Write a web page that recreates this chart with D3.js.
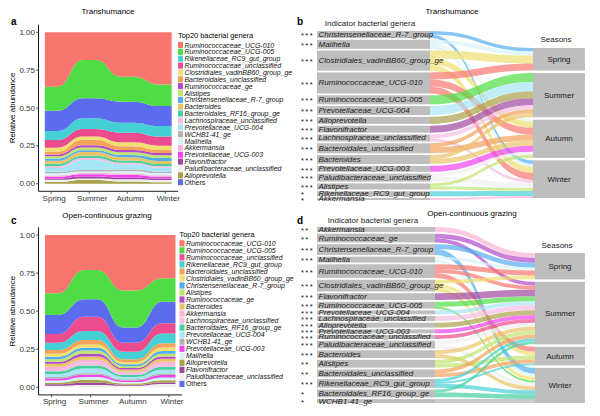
<!DOCTYPE html>
<html><head><meta charset="utf-8">
<script src="https://cdn.jsdelivr.net/npm/d3@7"></script>
<style>body{margin:0;background:#fff}svg text{font-family:"Liberation Sans",Arial,Helvetica,sans-serif}</style>
</head><body>
<svg id="chart" width="600" height="416"></svg>
<script>
// ---------------- DATA ----------------
const seasons = ["Spring", "Summer", "Autumn", "Winter"];
const yTicks = [0, 0.25, 0.5, 0.75, 1];

// Panel a (Transhumance) – stacking order top -> bottom
const transGenera = ["Ruminococcaceae_UCG-010","Ruminococcaceae_UCG-005","Others","Rikenellaceae_RC9_gut_group","Ruminococcaceae_unclassified","Clostridiales_vadinBB60_group_ge","Bacteroidales_unclassified","Ruminococcaceae_ge","Alistipes","Christensenellaceae_R-7_group","Bacteroides","Bacteroidales_RF16_group_ge","Lachnospiraceae_unclassified","Prevotellaceae_UCG-004","WCHB1-41_ge","Mailhella","Akkermansia","Prevotellaceae_UCG-003","Flavonifractor","Paludibacteraceae_unclassified","Alloprevotella"];
const transAbund = [
  [0.359,0.183,0.293,0.344],[0.159,0.253,0.165,0.143],[0.134,0.132,0.139,0.132],[0.059,0.071,0.066,0.070],
  [0.051,0.050,0.064,0.060],[0.025,0.020,0.025,0.028],[0.020,0.037,0.025,0.020],[0.012,0.015,0.015,0.015],
  [0.015,0.018,0.018,0.018],[0.015,0.012,0.015,0.020],[0.020,0.025,0.022,0.020],[0.015,0.015,0.015,0.015],
  [0.012,0.012,0.010,0.010],[0.025,0.067,0.035,0.025],[0.010,0.010,0.010,0.010],[0.015,0.010,0.015,0.015],
  [0.010,0.008,0.010,0.010],[0.010,0.015,0.018,0.010],[0.008,0.012,0.010,0.010],[0.015,0.010,0.015,0.015],
  [0.011,0.025,0.015,0.010]
];

// Panel c (Open-continuous grazing) – stacking order top -> bottom
const openGenera = ["Ruminococcaceae_UCG-010","Ruminococcaceae_UCG-005","Others","Ruminococcaceae_unclassified","Rikenellaceae_RC9_gut_group","Bacteroidales_unclassified","Clostridiales_vadinBB60_group_ge","Christensenellaceae_R-7_group","Alistipes","Ruminococcaceae_ge","Bacteroides","Akkermansia","Lachnospiraceae_unclassified","Bacteroidales_RF16_group_ge","Prevotellaceae_UCG-004","WCHB1-41_ge","Prevotellaceae_UCG-003","Mailhella","Alloprevotella","Flavonifractor","Paludibacteraceae_unclassified"];
const openAbund = [
  [0.383,0.230,0.365,0.284],[0.142,0.192,0.243,0.154],[0.125,0.114,0.099,0.142],[0.057,0.094,0.059,0.066],
  [0.048,0.059,0.050,0.065],[0.025,0.030,0.018,0.028],[0.020,0.022,0.015,0.022],[0.015,0.018,0.012,0.018],
  [0.018,0.020,0.012,0.018],[0.012,0.018,0.010,0.015],[0.020,0.022,0.015,0.020],[0.015,0.018,0.010,0.015],
  [0.015,0.020,0.012,0.018],[0.018,0.020,0.012,0.020],[0.020,0.030,0.015,0.025],[0.010,0.010,0.008,0.010],
  [0.012,0.015,0.010,0.015],[0.015,0.020,0.010,0.018],[0.010,0.018,0.008,0.015],[0.010,0.015,0.007,0.010],
  [0.010,0.015,0.010,0.022]
];

// Panel b – indicator genera (Transhumance), flows to Spring/Summer/Autumn/Winter
const transIndicator = ["Christensenellaceae_R-7_group","Mailhella","Clostridiales_vadinBB60_group_ge","Ruminococcaceae_UCG-010","Ruminococcaceae_UCG-005","Prevotellaceae_UCG-004","Alloprevotella","Flavonifractor","Lachnospiraceae_unclassified","Bacteroidales_unclassified","Bacteroides","Prevotellaceae_UCG-003","Paludibacteraceae_unclassified","Alistipes","Rikenellaceae_RC9_gut_group","Akkermansia"];
const transStars = ["***","***","***","***","***","***","***","***","***","***","***","***","***","***","*","*"];
const transFlows = [
  [3.5,0,0,3.5],[4,0,2,3],[8,0,6,6],[7,0,7,7],[0,9,0,0],[0,9,0,0],[0,7,0,0],[0,7,0,0],
  [0,4,0,3],[0,4,6,0],[0,4,5,0],[0,0,6,0],[0,0,3,5],[0,0,3,3],[0,0,0,5],[0,0,0,2]
];

// Panel d – indicator genera (Open-continuous grazing)
const openIndicator = ["Akkermansia","Ruminococcaceae_ge","Christensenellaceae_R-7_group","Mailhella","Ruminococcaceae_UCG-010","Clostridiales_vadinBB60_group_ge","Flavonifractor","Ruminococcaceae_UCG-005","Prevotellaceae_UCG-004","Lachnospiraceae_unclassified","Alloprevotella","Prevotellaceae_UCG-003","Ruminococcaceae_unclassified","Paludibacteraceae_unclassified","Bacteroides","Alistipes","Bacteroidales_unclassified","Rikenellaceae_RC9_gut_group","Bacteroidales_RF16_group_ge","WCHB1-41_ge"];
const openStars = ["**","**","***","***","***","***","***","***","***","***","***","***","***","***","***","**","**","***","*","*"];
const openFlows = [
  [5,0,0,0],[5,4,0,0],[5,0,0,6],[3,0,0,3],[5,4,5,0],[4,0,4,4],[0,7,0,0],[0,5,0,2],[0,4,0,0],[0,5,0,0],
  [0,5,0,0],[0,4,0,0],[0,4,0,0],[0,4,0,4],[0,4,0,4],[0,4,4,0],[0,4,4,0],[0,3,2,4],[0,3,0,5],[0,0,0,4]
];

// colours per genus
const genusColors = {
  "Ruminococcaceae_UCG-010":"#F8766D","Ruminococcaceae_UCG-005":"#4FDD45","Rikenellaceae_RC9_gut_group":"#45D0D5",
  "Ruminococcaceae_unclassified":"#EC4C8E","Clostridiales_vadinBB60_group_ge":"#EFE06F","Bacteroidales_unclassified":"#F3A35C",
  "Ruminococcaceae_ge":"#B24ACB","Alistipes":"#BEE56D","Christensenellaceae_R-7_group":"#52ADEF","Bacteroides":"#E9C466",
  "Bacteroidales_RF16_group_ge":"#47CFA0","Lachnospiraceae_unclassified":"#F6BDE3","Prevotellaceae_UCG-004":"#A6E6F6",
  "WCHB1-41_ge":"#B3B3B3","Mailhella":"#D6F3F8","Akkermansia":"#F9B4D6","Prevotellaceae_UCG-003":"#F043EE",
  "Flavonifractor":"#A0479F","Paludibacteraceae_unclassified":"#EFEFEF","Alloprevotella":"#A9A14B","Others":"#5B6CEF"
};

// ---------------- DRAW ----------------
const svg = d3.select("#chart");

function txt(g, x, y, s, size, opts = {}) {
  const t = g.append("text").attr("x", x).attr("y", y).text(s).attr("font-size", size)
    .attr("fill", opts.fill || "#000");
  if (opts.anchor) t.attr("text-anchor", opts.anchor);
  if (opts.italic) t.attr("font-style", "italic");
  if (opts.bold) t.attr("font-weight", "bold");
  if (opts.mid) t.attr("dominant-baseline", "central");
  return t;
}

function stackPanel(o) {
  const g = svg.append("g");
  const x = d3.scaleLinear().domain([0.667, 4.333]).range([o.left, o.right]);
  const y = d3.scaleLinear().domain([0, 1]).range([o.y0, o.y1]);
  const rows = seasons.map((s, j) => {
    const r = { season: s, idx: j + 1 };
    o.genera.forEach((gn, i) => r[gn] = o.abund[i][j]);
    return r;
  });
  const keys = o.genera.slice().reverse(); // bottom first
  const layers = d3.stack().keys(keys)(rows);
  const hw = 1 / 6;
  const area = d3.area().x(p => x(p.x)).y0(p => y(p.a)).y1(p => y(p.b)).curve(d3.curveBumpX);
  layers.forEach(L => {
    const pts = [];
    L.forEach((d, j) => {
      pts.push({ x: d.data.idx - hw, a: d[0], b: d[1] });
      pts.push({ x: d.data.idx + hw, a: d[0], b: d[1] });
    });
    g.append("path").attr("d", area(pts)).attr("fill", genusColors[L.key]);
  });
  // axes
  const yTop = y(1) - 0.05 * (y(0) - y(1)), yBot = y(0) + 0.05 * (y(0) - y(1));
  g.append("line").attr("x1", o.left).attr("x2", o.left).attr("y1", yTop).attr("y2", yBot).attr("stroke", "#000").attr("stroke-width", 0.9);
  g.append("line").attr("x1", o.left).attr("x2", o.right).attr("y1", yBot).attr("y2", yBot).attr("stroke", "#000").attr("stroke-width", 0.9);
  yTicks.forEach(t => {
    g.append("line").attr("x1", o.left - 2.5).attr("x2", o.left).attr("y1", y(t)).attr("y2", y(t)).attr("stroke", "#333").attr("stroke-width", 0.8);
    txt(g, o.left - 3.5, y(t), d3.format(".2f")(t), 8, { anchor: "end", mid: true, fill: "#333" });
  });
  seasons.forEach((s, j) => {
    g.append("line").attr("x1", x(j + 1)).attr("x2", x(j + 1)).attr("y1", yBot).attr("y2", yBot + 2.5).attr("stroke", "#333").attr("stroke-width", 0.8);
    txt(g, x(j + 1) + 3, yBot + 9.5, s, 8, { anchor: "middle", fill: "#333" });
  });
  txt(g, 0, 0, "Relative abundance", 8, { anchor: "middle" })
    .attr("transform", `translate(${o.ytitleX},${(yTop + yBot) / 2}) rotate(-90)`);
  txt(g, o.titleX, o.titleY, o.title, 8, { anchor: "middle" });
  txt(g, o.letterX, o.letterY, o.letter, 10, { bold: true });
  // legend
  const leg = o.genera.filter(d => d !== "Others").concat(["Others"]);
  txt(g, o.legX, o.legTitleY, "Top20 bacterial genera", 7.4);
  leg.forEach((gn, i) => {
    const cy = o.legY0 + i * o.legStep;
    g.append("rect").attr("x", o.legX).attr("y", cy - o.legStep / 2 + 0.4).attr("width", 5).attr("height", o.legStep - 0.8).attr("fill", genusColors[gn]);
    txt(g, o.legX + 6.5, cy, gn, 6.9, { italic: gn !== "Others", mid: true, fill: "#111" });
  });
}

function alluvialPanel(o) {
  const g = svg.append("g");
  const segTotals = seasons.map((s, j) => d3.sum(o.flows, f => f[j]));
  const total = d3.sum(segTotals);
  const rightPad = 2.5;
  const k = d3.scaleLinear().domain([0, total]).range([0, o.rBot - o.rTop - rightPad * 3]);
  const leftPad = (o.lBot - o.lTop - k(total)) / (o.genera.length - 1);
  let yy = o.lTop;
  const leftNodes = o.genera.map((gn, i) => {
    const h = k(d3.sum(o.flows[i]));
    const n = { gn, y0: yy, y1: yy + h };
    yy += h + leftPad; return n;
  });
  yy = o.rTop;
  const rightNodes = seasons.map((s, j) => {
    const h = k(segTotals[j]);
    const n = { s, y0: yy, y1: yy + h };
    yy += h + rightPad; return n;
  });
  const links = [];
  leftNodes.forEach((n, i) => {
    let c = n.y0;
    o.flows[i].forEach((v, j) => { if (v > 0) { links.push({ i, j, v, l0: c, l1: c + k(v) }); c += k(v); } });
  });
  rightNodes.forEach((rn, j) => {
    let c = rn.y0;
    links.filter(l => l.j === j).sort((a, b) => a.i - b.i).forEach(l => { l.r0 = c; l.r1 = c + k(l.v); c += k(l.v); });
  });
  // strata
  leftNodes.forEach(n => g.append("rect").attr("x", o.lx0).attr("y", n.y0).attr("width", o.lx1 - o.lx0)
    .attr("height", n.y1 - n.y0).attr("fill", "#BEBEBE"));
  rightNodes.forEach(n => g.append("rect").attr("x", o.rx0).attr("y", n.y0).attr("width", o.rx1 - o.rx0)
    .attr("height", n.y1 - n.y0).attr("fill", "#BEBEBE"));
  // flows
  const area = d3.area().x(p => p.x).y0(p => p.a).y1(p => p.b).curve(d3.curveBumpX);
  links.forEach(l => {
    g.append("path").attr("d", area([{ x: o.lx1, a: l.l0, b: l.l1 }, { x: o.rx0, a: l.r0, b: l.r1 }]))
      .attr("fill", genusColors[o.genera[l.i]]).attr("fill-opacity", 0.7);
  });
  // labels
  leftNodes.forEach((n, i) => {
    txt(g, o.lx0 + 1.5, (n.y0 + n.y1) / 2, n.gn, 8, { italic: true, mid: true, fill: "#1a1a1a" });
    txt(g, 301, (n.y0 + n.y1) / 2 + 1.2, o.stars[i], 7.5, { mid: true, fill: "#1a1a1a" })
      .attr("letter-spacing", 1.4);
  });
  rightNodes.forEach(n => txt(g, (o.rx0 + o.rx1) / 2, (n.y0 + n.y1) / 2, n.s, 8, { anchor: "middle", mid: true, fill: "#1a1a1a" }));
  txt(g, (o.rx0 + o.rx1) / 2 - 3, o.seasonsY, "Seasons", 8, { anchor: "middle", mid: true, fill: "#1a1a1a" });
  txt(g, o.indX, o.indY, "Indicator bacterial genera", 8, { anchor: "middle", mid: true, fill: "#1a1a1a" });
  txt(g, o.titleX, o.titleY, o.title, 8, { anchor: "middle", mid: true });
  txt(g, 297, o.letterY, o.letter, 10, { bold: true });
}

stackPanel({ genera: transGenera, abund: transAbund, left: 38.5, right: 178, y0: 183.7, y1: 32.3,
  ytitleX: 15, title: "Transhumance", titleX: 108, titleY: 14, letter: "a", letterX: 11, letterY: 25,
  legX: 178, legTitleY: 37.5, legY0: 45, legStep: 6.86 });
stackPanel({ genera: openGenera, abund: openAbund, left: 38.5, right: 182, y0: 387.3, y1: 235,
  ytitleX: 15, title: "Open-continuous grazing", titleX: 107, titleY: 218, letter: "c", letterX: 11, letterY: 224,
  legX: 179.5, legTitleY: 236.5, legY0: 243.3, legStep: 7.03 });

alluvialPanel({ genera: transIndicator, stars: transStars, flows: transFlows,
  lx0: 317, lx1: 430, rx0: 533, rx1: 585, lTop: 31, lBot: 200, rTop: 48, rBot: 198,
  seasonsY: 39, indX: 370, indY: 23, title: "Transhumance", titleX: 452, titleY: 11, letter: "b", letterY: 25 });
alluvialPanel({ genera: openIndicator, stars: openStars, flows: openFlows,
  lx0: 317, lx1: 435, rx0: 535, rx1: 585, lTop: 227, lBot: 403, rTop: 253, rBot: 403,
  seasonsY: 245, indX: 373, indY: 220, title: "Open-continuous grazing", titleX: 472, titleY: 213, letter: "d", letterY: 224 });
</script>
</body></html>
